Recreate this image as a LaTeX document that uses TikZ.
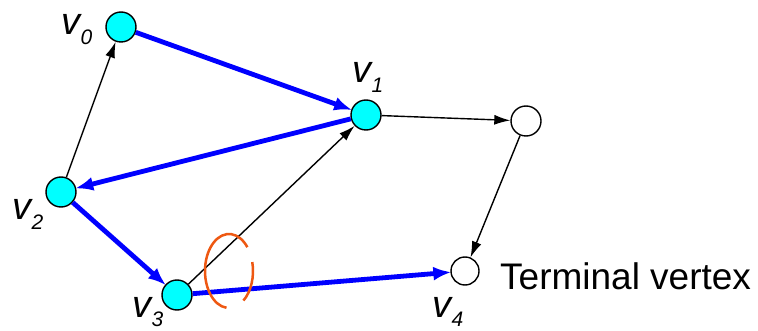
\documentclass[tikz,border=0pt]{standalone}
\usepackage{fontspec}
\setmainfont{Liberation Sans}
\usetikzlibrary{arrows.meta}
\definecolor{vcyan}{RGB}{0,255,255}
\definecolor{eblue}{RGB}{0,0,255}
\definecolor{eorange}{RGB}{238,88,18}
\newcommand{\vlab}[1]{\itshape v\kern0.5pt\raisebox{-0.25em}{\fontsize{21}{21}\selectfont #1}}
\begin{document}
\begin{tikzpicture}[x=1pt,y=-1pt,
  vert/.style={circle,draw=black,line width=1.4pt,fill=vcyan,minimum size=30pt,inner sep=0pt},
  wvert/.style={vert,fill=white},
  tvert/.style={vert,fill=white,minimum size=28pt},
  blueedge/.style={draw=eblue,line width=4.8pt,-{Latex[length=18pt,width=14pt]},shorten >=-1pt},
  blackedge/.style={draw=black,line width=1.4pt,-{Latex[length=16pt,width=10pt]}},
  lab/.style={font=\fontsize{38}{38}\selectfont,inner sep=0pt,anchor=base west},
  arcstyle/.style={draw=eorange,line width=2.5pt}]
\useasboundingbox (0,0) rectangle (758,331);
\node[vert] (v0) at (121,27) {};
\node[vert] (v1) at (366,115) {};
\node[wvert] (u) at (526,121) {};
\node[vert] (v2) at (61,192) {};
\node[vert] (v3) at (177,295) {};
\node[tvert] (v4) at (465,271) {};

\node[lab] (l0) at (61,35) {\vlab{0}};
\node[lab] (l1) at (352,83) {\vlab{1}};
\node[lab] (l2) at (12,220) {\vlab{2}};
\node[lab] (l3) at (132,317) {\vlab{3}};
\node[lab] (l4) at (432,317) {\vlab{4}};
\node[font=\fontsize{37}{37}\selectfont,inner sep=0pt,anchor=west] (tv) at (500,276) {Terminal vertex};

\draw[blackedge] (v2) -- (v0);
\draw[blackedge] (v3) -- (v1);
\draw[blackedge] (v1) -- (u);
\draw[blackedge] (u) -- (v4);

\draw[blueedge] (v0) -- (v1);
\draw[blueedge] (v1) -- (v2);
\draw[blueedge] (v2) -- (v3);
\draw[blueedge] (v3) -- (v4);

\coordinate (ec) at (229,271);
\draw[arcstyle] (ec) ++(-96:24pt and 37pt) arc[start angle=-96,end angle=-320,x radius=24pt,y radius=37pt];
\draw[arcstyle] (ec) ++(-53:24pt and 37pt) arc[start angle=-53,end angle=14,x radius=24pt,y radius=37pt];
\end{tikzpicture}
\end{document}
